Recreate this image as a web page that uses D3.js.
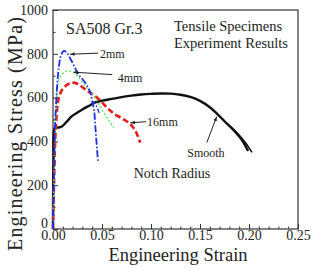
<!DOCTYPE html>
<html><head><meta charset="utf-8">
<script src="https://cdn.jsdelivr.net/npm/d3@7"></script>
<style>body{margin:0;background:#fff}svg{display:block}svg text{font-family:"Liberation Serif","Times New Roman",serif !important;fill:#222}</style>
</head><body><svg id="c" width="311" height="270"></svg>
<script>
const xTicks = [0, 0.05, 0.10, 0.15, 0.20, 0.25];
const yTicks = [0, 200, 400, 600, 800, 1000];

const smoothX = [0, 0.0005, 0.002, 0.005, 0.009, 0.014, 0.019, 0.025, 0.030, 0.037, 0.043, 0.050, 0.060, 0.070, 0.080, 0.090, 0.100, 0.110, 0.120, 0.130, 0.140, 0.150, 0.160, 0.167, 0.175, 0.185, 0.193, 0.199];
const smoothY = [0, 300, 462, 463, 468, 490, 514, 532, 546, 563, 578, 586, 594, 602, 609, 614, 617, 619, 618, 613, 603, 585, 556, 528, 492, 448, 405, 356];
const smooth2X = [0.180, 0.188, 0.196, 0.203];
const smooth2Y = [472, 438, 396, 350];

const mm2X = [0, 0.001, 0.002, 0.004, 0.006, 0.008, 0.011, 0.014, 0.018, 0.022, 0.026, 0.030, 0.033, 0.036, 0.038, 0.040, 0.042, 0.043, 0.044, 0.045, 0.046];
const mm2Y = [0, 250, 450, 640, 740, 790, 813, 805, 775, 740, 705, 685, 667, 645, 624, 583, 540, 480, 420, 360, 305];
const mm2bX = [0.040, 0.043, 0.045, 0.047];
const mm2bY = [583, 570, 555, 530];

const mm4X = [0, 0.001, 0.003, 0.006, 0.010, 0.014, 0.018, 0.022, 0.026, 0.030, 0.036, 0.042, 0.047, 0.052, 0.057, 0.062];
const mm4Y = [0, 220, 520, 683, 710, 720, 721, 712, 693, 670, 637, 604, 569, 530, 495, 463];

const mm16X = [0, 0.001, 0.003, 0.006, 0.010, 0.015, 0.019, 0.025, 0.033, 0.040, 0.047, 0.055, 0.062, 0.070, 0.077, 0.082, 0.086, 0.089];
const mm16Y = [0, 200, 470, 601, 640, 660, 668, 663, 637, 616, 592, 555, 527, 506, 486, 462, 430, 394];

const labels = [
  {t: "2mm", x: 0.048, y: 800, size: 12, tipX: 0.0175, tipY: 798, fromX: 0.046, fromY: 803},
  {t: "4mm", x: 0.066, y: 690, size: 12, tipX: 0.021, tipY: 716, fromX: 0.0605, fromY: 705},
  {t: "16mm", x: 0.096, y: 490, size: 12, tipX: 0.079, tipY: 485, fromX: 0.095, fromY: 490},
  {t: "Smooth", x: 0.156, y: 350, size: 12, tipX: 0.167, tipY: 513, fromX: 0.157, fromY: 395}
];

const W = 311, H = 270;
const m = {l: 53, r: 13, t: 10, b: 41};
const svg = d3.select("#c");
const x = d3.scaleLinear().domain([0, 0.25]).range([m.l, W - m.r]);
const y = d3.scaleLinear().domain([0, 1000]).range([H - m.b, m.t]);

svg.append("defs").append("marker").attr("id", "ah").attr("viewBox", "0 0 10 10")
  .attr("refX", 10).attr("refY", 5).attr("markerWidth", 4.5).attr("markerHeight", 4.5)
  .attr("orient", "auto").append("path").attr("d", "M0,1 L10,5 L0,9 z").attr("fill", "#222");

// frame
svg.append("rect").attr("x", x(0)).attr("y", y(1000)).attr("width", x(0.25) - x(0)).attr("height", y(0) - y(1000))
  .attr("fill", "none").attr("stroke", "#333").attr("stroke-width", 1.2);

// axes
const xa = svg.append("g").attr("transform", `translate(0,${y(0)})`)
  .call(d3.axisBottom(x).tickValues(xTicks).tickFormat(d3.format(".2f")).tickSize(-5).tickPadding(1));
const xm = svg.append("g").attr("transform", `translate(0,${y(0)})`)
  .call(d3.axisBottom(x).tickValues(d3.range(0, 0.2501, 0.01)).tickFormat("").tickSize(-2.5));
const ya = svg.append("g").attr("transform", `translate(${x(0)},0)`)
  .call(d3.axisLeft(y).tickValues(yTicks).tickFormat(d3.format("d")).tickSize(-5).tickPadding(5));
const ym = svg.append("g").attr("transform", `translate(${x(0)},0)`)
  .call(d3.axisLeft(y).tickValues(d3.range(100, 1000, 200)).tickFormat("").tickSize(-2.5));
[xa, xm, ya, ym].forEach(g => { g.attr("font-family", null); g.select(".domain").remove(); g.selectAll("line").attr("stroke", "#333"); });
xa.selectAll("text").style("font-size", "14px").style("fill", "#222");
ya.selectAll("text").style("font-size", "14px").style("fill", "#222").attr("dy", d => d === 0 ? "-0.12em" : "0.3em");

const lineC = d3.line().x(d => x(d[0])).y(d => y(d[1])).curve(d3.curveCatmullRom);
function draw(xs, ys, color, w, dash) {
  svg.append("path").datum(xs.map((v, i) => [v, ys[i]])).attr("d", lineC)
    .attr("fill", "none").attr("stroke", color).attr("stroke-width", w)
    .attr("stroke-dasharray", dash).attr("stroke-linecap", "butt");
}
draw(smoothX, smoothY, "#111", 2.4, null);
draw(smooth2X, smooth2Y, "#111", 1.6, null);
draw(mm16X, mm16Y, "#e8191c", 2.6, "6,3");
draw(mm4X, mm4Y, "#55e855", 1.4, "2,2");
draw(mm2X, mm2Y, "#1a2ee8", 1.8, "7,2,1.5,2");
draw(mm2bX, mm2bY, "#1a2ee8", 1.4, "4,2,1.5,2");

// annotations
labels.forEach(l => {
  svg.append("line").attr("x1", x(l.fromX)).attr("y1", y(l.fromY)).attr("x2", x(l.tipX)).attr("y2", y(l.tipY))
    .attr("stroke", "#222").attr("stroke-width", 1).attr("marker-end", "url(#ah)");
  svg.append("text").attr("x", x(l.x)).attr("y", y(l.y)).attr("dy", "0.35em")
    .style("font-size", l.size + "px").attr("text-anchor", l.t === "Smooth" ? "middle" : "start").text(l.t);
});

svg.append("text").attr("x", 66).attr("y", 34).style("font-size", "16px").text("SA508 Gr.3");
svg.append("text").attr("x", 174).attr("y", 31).style("font-size", "14.5px").text("Tensile Specimens");
svg.append("text").attr("x", 174).attr("y", 48).style("font-size", "14.5px").text("Experiment Results");
svg.append("text").attr("x", 172).attr("y", 178).style("font-size", "14px").attr("text-anchor", "middle").text("Notch Radius");

svg.append("text").attr("x", 178).attr("y", 261).style("font-size", "18.5px").attr("text-anchor", "middle").text("Engineering Strain");
svg.append("text").attr("transform", `translate(22,134) rotate(-90)`).style("font-size", "20px")
  .attr("text-anchor", "middle").attr("textLength", 234).text("Engineering Stress (MPa)");
</script></body></html>
